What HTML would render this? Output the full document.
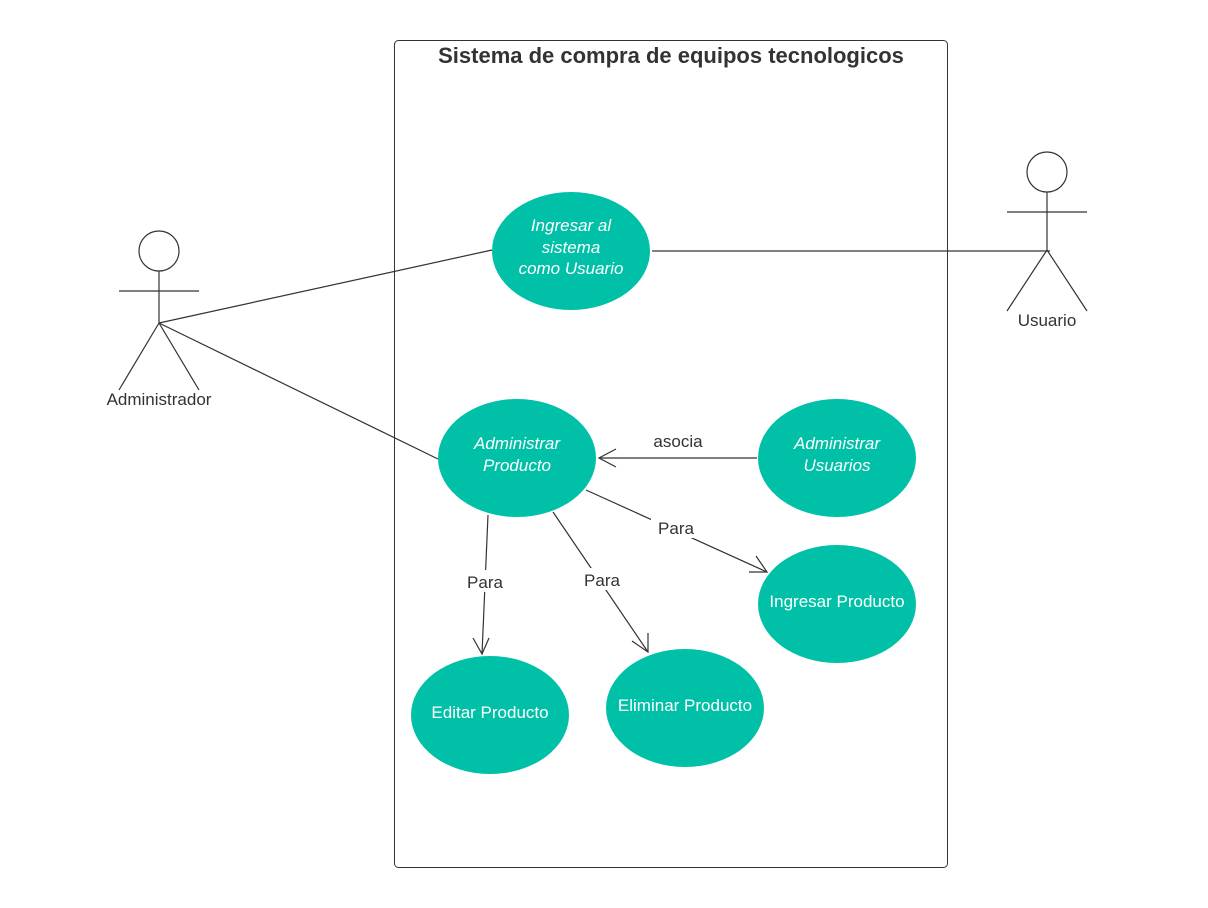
<!DOCTYPE html>
<html><head><style>body{margin:0;background:#fff}svg{display:block}text{font-family:"Liberation Sans",sans-serif}</style></head><body>
<svg width="1208" height="908" xmlns="http://www.w3.org/2000/svg">
<rect x="394.5" y="40.5" width="553" height="827" rx="4" fill="none" stroke="#333" stroke-width="1"/>
<text x="671" y="63" font-size="22" font-weight="bold" fill="#333" text-anchor="middle">Sistema de compra de equipos tecnologicos</text>
<g stroke="#333" stroke-width="1.2" fill="none">
<line x1="159" y1="323" x2="492" y2="250"/>
<line x1="159" y1="323" x2="438" y2="459"/>
<line x1="652" y1="251" x2="1050" y2="251"/>
<line x1="757" y1="458" x2="599" y2="458"/>
<polyline points="616,449 599,458 616,467"/>
<line x1="488" y1="515" x2="482" y2="654"/>
<polyline points="473,638 482,654 489,638"/>
<line x1="553" y1="512" x2="648" y2="652"/>
<polyline points="632,641 648,652 648,633"/>
<line x1="586" y1="490" x2="767" y2="572"/>
<polyline points="749,572 767,572 756,556"/>
<circle cx="159" cy="251" r="20"/>
<line x1="159" y1="271" x2="159" y2="323"/>
<line x1="119" y1="291" x2="199" y2="291"/>
<polyline points="119,390 159,323 199,390"/>
<circle cx="1047" cy="172" r="20"/>
<line x1="1047" y1="192" x2="1047" y2="250"/>
<line x1="1007" y1="212" x2="1087" y2="212"/>
<polyline points="1007,311 1047,250 1087,311"/>
</g>
<g fill="#fff">
<rect x="460" y="570" width="50" height="22"/>
<rect x="577" y="568" width="50" height="22"/>
<rect x="651" y="516" width="50" height="22"/>
</g>
<g font-size="17" fill="#333" text-anchor="middle">
<text x="485" y="588">Para</text>
<text x="602" y="586">Para</text>
<text x="676" y="534">Para</text>
<text x="678" y="447">asocia</text>
<text x="159" y="405">Administrador</text>
<text x="1047" y="326">Usuario</text>
</g>
<g fill="#00c1a7">
<ellipse cx="571" cy="251" rx="79" ry="59"/>
<ellipse cx="517" cy="458" rx="79" ry="59"/>
<ellipse cx="837" cy="458" rx="79" ry="59"/>
<ellipse cx="837" cy="604" rx="79" ry="59"/>
<ellipse cx="490" cy="715" rx="79" ry="59"/>
<ellipse cx="685" cy="708" rx="79" ry="59"/>
</g>
<g font-size="17" fill="#fff" text-anchor="middle">
<g font-style="italic">
<text x="571" y="231">Ingresar al</text>
<text x="571" y="253">sistema</text>
<text x="571" y="274">como Usuario</text>
<text x="517" y="449">Administrar</text>
<text x="517" y="471">Producto</text>
<text x="837" y="449">Administrar</text>
<text x="837" y="471">Usuarios</text>
</g>
<text x="837" y="607">Ingresar Producto</text>
<text x="490" y="718">Editar Producto</text>
<text x="685" y="711">Eliminar Producto</text>
</g>
</svg>
</body></html>
